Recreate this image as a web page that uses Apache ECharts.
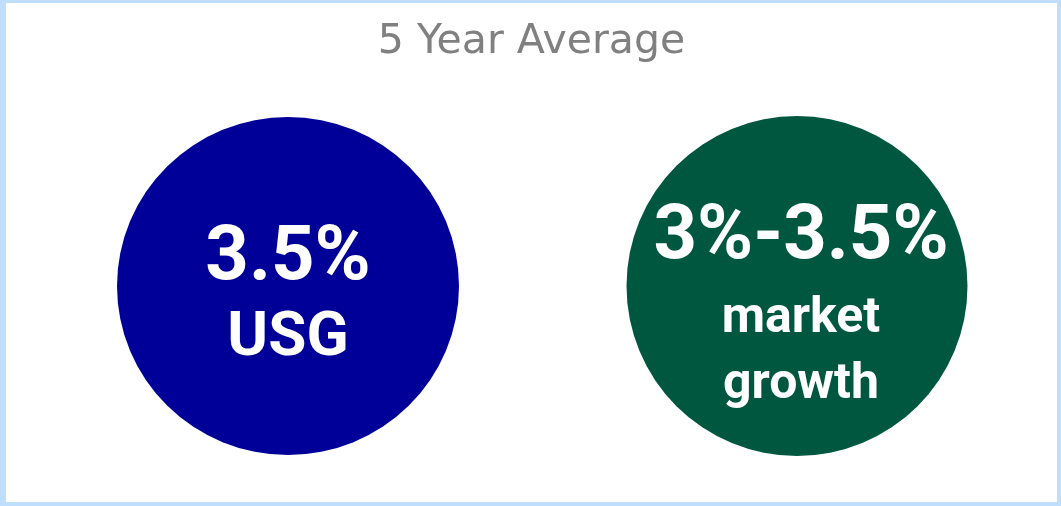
<!DOCTYPE html>
<html>
<head>
<meta charset="utf-8">
<script src="https://cdn.jsdelivr.net/npm/echarts@6/dist/echarts.min.js"></script>
<style>
  html, body { margin: 0; padding: 0; background: #ffffff; }
  #frame {
    width: 1061px; height: 506px; box-sizing: border-box;
    border-style: solid; border-color: #bfddfd;
    border-width: 3px 4px 4px 6px;
  }
  #chart { width: 100%; height: 100%; }
</style>
</head>
<body>
<div id="frame"><div id="chart"></div></div>
<script>
// Headline figures and their captions
const titleText = '5 Year Average';
const positions = [0, 1];
const headlines = ['3.5%', '3%-3.5%'];
const captions = [['USG'], ['market', 'growth']];

const titleFont = '"DejaVu Sans", sans-serif';
const bodyFont = 'Roboto, "DejaVu Sans", sans-serif';
const fills = ['#000099', '#00573f'];
const sizes = [[342, 338], [341, 340]];
const richStyles = [
  { v: { fontSize: 76, lineHeight: 80 }, t: { fontSize: 62, lineHeight: 78 } },
  { v: { fontSize: 76, lineHeight: 94 }, t: { fontSize: 50, lineHeight: 66 } }
];
const labelOffsets = [[0, 13], [4, 19]];

const chart = echarts.init(document.getElementById('chart'));

const seriesData = positions.map((x, i) => ({
  value: [x, 0.5],
  symbolSize: sizes[i],
  itemStyle: { color: fills[i], opacity: 1 },
  label: {
    show: true,
    position: 'inside',
    offset: labelOffsets[i],
    color: '#ffffff',
    fontFamily: bodyFont,
    fontWeight: 'bold',
    align: 'center',
    formatter: () => ['{v|' + headlines[i] + '}']
      .concat(captions[i].map(c => '{t|' + c + '}')).join('\n'),
    rich: {
      v: Object.assign({ fontFamily: bodyFont, fontWeight: 'bold', color: '#fff' }, richStyles[i].v),
      t: Object.assign({ fontFamily: bodyFont, fontWeight: 'bold', color: '#fff' }, richStyles[i].t)
    }
  }
}));

chart.setOption({
  animation: false,
  title: {
    text: titleText,
    left: 'center',
    top: 14,
    textStyle: { color: '#808080', fontSize: 41, fontWeight: 'normal', fontFamily: titleFont }
  },
  grid: { left: 282, right: 260, top: 186, bottom: 119 },
  xAxis: { type: 'value', min: 0, max: 1, show: false },
  yAxis: { type: 'value', min: 0, max: 1, show: false },
  series: [{
    type: 'scatter',
    symbol: 'circle',
    itemStyle: { opacity: 1 },
    emphasis: { disabled: true },
    data: seriesData
  }]
});
</script>
</body>
</html>
